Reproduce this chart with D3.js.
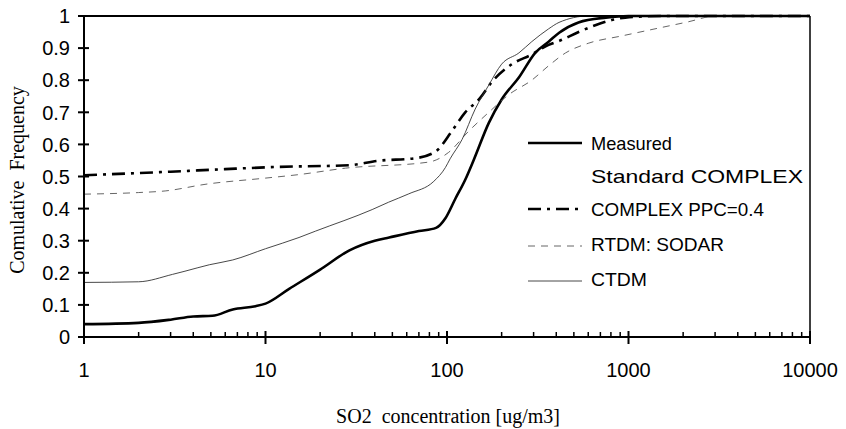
<!DOCTYPE html>
<html>
<head>
<meta charset="utf-8">
<script src="https://cdn.jsdelivr.net/npm/d3@7"></script>
<style>
  html, body { margin: 0; padding: 0; background: #fff; }
  svg text { white-space: pre; }
</style>
</head>
<body>
<svg id="chart" width="846" height="429"></svg>
<script>
// ---- data ----
const measuredX = [1, 2, 3, 4, 5.1, 6.6, 8.8, 10, 13.5, 20, 29, 40, 48, 70, 87, 98, 111, 126, 140, 170, 200, 250, 307, 363, 415, 530, 750, 1000, 10000];
const measuredY = [0.04, 0.044, 0.054, 0.064, 0.066, 0.086, 0.096, 0.104, 0.15, 0.21, 0.27, 0.30, 0.31, 0.33, 0.34, 0.37, 0.43, 0.49, 0.55, 0.667, 0.74, 0.81, 0.886, 0.92, 0.948, 0.98, 0.995, 1.0, 1.0];

const complexPpcX = [1, 3, 6, 11.8, 28.8, 42, 67, 86.6, 106, 126, 150, 177, 228, 293, 363, 414, 531, 685, 960, 1500, 10000];
const complexPpcY = [0.504, 0.515, 0.523, 0.53, 0.535, 0.549, 0.557, 0.578, 0.64, 0.70, 0.74, 0.795, 0.85, 0.88, 0.91, 0.922, 0.95, 0.975, 0.995, 1.0, 1.0];

const rtdmX = [1, 2, 2.8, 4.7, 10, 15.3, 27.6, 79.4, 102, 131, 170, 219, 293, 363, 450, 600, 920, 1400, 2140, 3000, 10000];
const rtdmY = [0.445, 0.45, 0.455, 0.476, 0.495, 0.506, 0.526, 0.545, 0.575, 0.64, 0.70, 0.755, 0.80, 0.845, 0.885, 0.915, 0.938, 0.96, 0.982, 1.0, 1.0];

const ctdmX = [1, 2, 3.07, 3.6, 4.9, 6.6, 10, 15.3, 18.9, 38.7, 47.7, 61.6, 84.6, 98, 104, 121, 143, 170, 200, 249, 293, 363, 414, 600, 10000];
const ctdmY = [0.17, 0.172, 0.195, 0.205, 0.225, 0.24, 0.275, 0.31, 0.33, 0.397, 0.42, 0.446, 0.485, 0.528, 0.555, 0.615, 0.71, 0.785, 0.85, 0.885, 0.92, 0.96, 0.98, 1.0, 1.0];

const xTickValues = [1, 10, 100, 1000, 10000];
const xTickLabels = ["1", "10", "100", "1000", "10000"];
const yTickValues = [0, 0.1, 0.2, 0.3, 0.4, 0.5, 0.6, 0.7, 0.8, 0.9, 1];
const yTickLabels = ["0", "0.1", "0.2", "0.3", "0.4", "0.5", "0.6", "0.7", "0.8", "0.9", "1"];

const legendLabels = ["Measured", "Standard COMPLEX", "COMPLEX PPC=0.4", "RTDM: SODAR", "CTDM"];

// ---- layout ----
const svg = d3.select("#chart");
const pLeft = 84, pRight = 810, pTop = 16, pBottom = 337;

const x = d3.scaleLog().domain([1, 10000]).range([pLeft, pRight]);
const y = d3.scaleLinear().domain([0, 1]).range([pBottom, pTop]);

const series = [
  { xs: measuredX, ys: measuredY, width: 2.6, dash: null, color: "#000" },
  { xs: complexPpcX, ys: complexPpcY, width: 2.6, dash: "13,6,3,6", color: "#000" },
  { xs: rtdmX, ys: rtdmY, width: 0.9, dash: "7,6", color: "#555" },
  { xs: ctdmX, ys: ctdmY, width: 0.9, dash: null, color: "#333" }
];

const line = d3.line()
  .x(d => x(d[0]))
  .y(d => y(d[1]))
  .curve(d3.curveMonotoneX);

const gLines = svg.append("g");
series.forEach(s => {
  const pts = s.xs.map((v, i) => [v, s.ys[i]]);
  gLines.append("path")
    .attr("d", line(pts))
    .attr("fill", "none")
    .attr("stroke", s.color)
    .attr("stroke-width", s.width)
    .attr("stroke-dasharray", s.dash)
    .attr("stroke-linejoin", "round");
});

// frame: top and right lines
svg.append("line").attr("x1", pLeft).attr("x2", pRight).attr("y1", pTop).attr("y2", pTop)
  .attr("stroke", "#000").attr("stroke-width", 2);
svg.append("line").attr("x1", pRight).attr("x2", pRight).attr("y1", pTop).attr("y2", pBottom)
  .attr("stroke", "#000").attr("stroke-width", 1.5);

// x axis
const xAxisG = svg.append("g").attr("transform", `translate(0,${pBottom})`);
xAxisG.append("line").attr("x1", pLeft).attr("x2", pRight).attr("y1", 0).attr("y2", 0)
  .attr("stroke", "#000").attr("stroke-width", 2);
const minor = [];
for (let d = 1; d < 10000; d *= 10) for (let k = 2; k <= 9; k++) minor.push(d * k);
xAxisG.selectAll("line.minor").data(minor).join("line")
  .attr("class", "minor")
  .attr("x1", d => x(d)).attr("x2", d => x(d))
  .attr("y1", 0).attr("y2", -5)
  .attr("stroke", "#000").attr("stroke-width", 1.5);
xAxisG.selectAll("line.major").data(xTickValues).join("line")
  .attr("class", "major")
  .attr("x1", d => x(d)).attr("x2", d => x(d))
  .attr("y1", -6).attr("y2", 7)
  .attr("stroke", "#000").attr("stroke-width", 2);
xAxisG.selectAll("text").data(xTickValues).join("text")
  .attr("x", d => x(d)).attr("y", 40)
  .attr("text-anchor", "middle")
  .attr("font-family", "Liberation Sans, Arial, sans-serif")
  .attr("font-size", 20)
  .text((d, i) => xTickLabels[i]);

// y axis
const yAxisG = svg.append("g").attr("transform", `translate(${pLeft},0)`);
yAxisG.append("line").attr("x1", 0).attr("x2", 0).attr("y1", pTop).attr("y2", pBottom)
  .attr("stroke", "#000").attr("stroke-width", 2);
yAxisG.selectAll("line.tick").data(yTickValues).join("line")
  .attr("class", "tick")
  .attr("x1", -6).attr("x2", 5)
  .attr("y1", d => y(d)).attr("y2", d => y(d))
  .attr("stroke", "#000").attr("stroke-width", 2);
yAxisG.selectAll("text").data(yTickValues).join("text")
  .attr("x", -14).attr("y", d => y(d))
  .attr("dy", "0.36em")
  .attr("text-anchor", "end")
  .attr("font-family", "Liberation Sans, Arial, sans-serif")
  .attr("font-size", 20)
  .text((d, i) => yTickLabels[i]);

// axis titles
svg.append("text")
  .attr("x", 448).attr("y", 423)
  .attr("text-anchor", "middle")
  .attr("font-family", "Liberation Serif, Times New Roman, serif")
  .attr("font-size", 20)
  .text("SO2  concentration [ug/m3]");
svg.append("text")
  .attr("transform", "translate(24,180) rotate(-90)")
  .attr("text-anchor", "middle")
  .attr("font-family", "Liberation Serif, Times New Roman, serif")
  .attr("font-size", 20)
  .text("Comulative  Frequency");

// legend
const legendY = [143, 176, 209, 244, 279];
const legendLen = [81, 212, 173, 133, 56];
const legendStyle = [series[0], null, series[1], series[2], series[3]];
const lg = svg.append("g");
legendLabels.forEach((lab, i) => {
  const s = legendStyle[i];
  if (s) {
    const ly = legendY[i] + (i >= 3 ? 2 : 0);
    lg.append("line")
      .attr("x1", 528).attr("x2", 582)
      .attr("y1", ly).attr("y2", ly)
      .attr("stroke", s.color)
      .attr("stroke-width", s.width)
      .attr("stroke-dasharray", s.dash);
  }
  lg.append("text")
    .attr("x", 591).attr("y", legendY[i])
    .attr("dy", "0.36em")
    .attr("font-family", "Liberation Sans, Arial, sans-serif")
    .attr("font-size", 19)
    .attr("textLength", legendLen[i])
    .attr("lengthAdjust", "spacingAndGlyphs")
    .text(lab);
});
</script>
</body>
</html>
